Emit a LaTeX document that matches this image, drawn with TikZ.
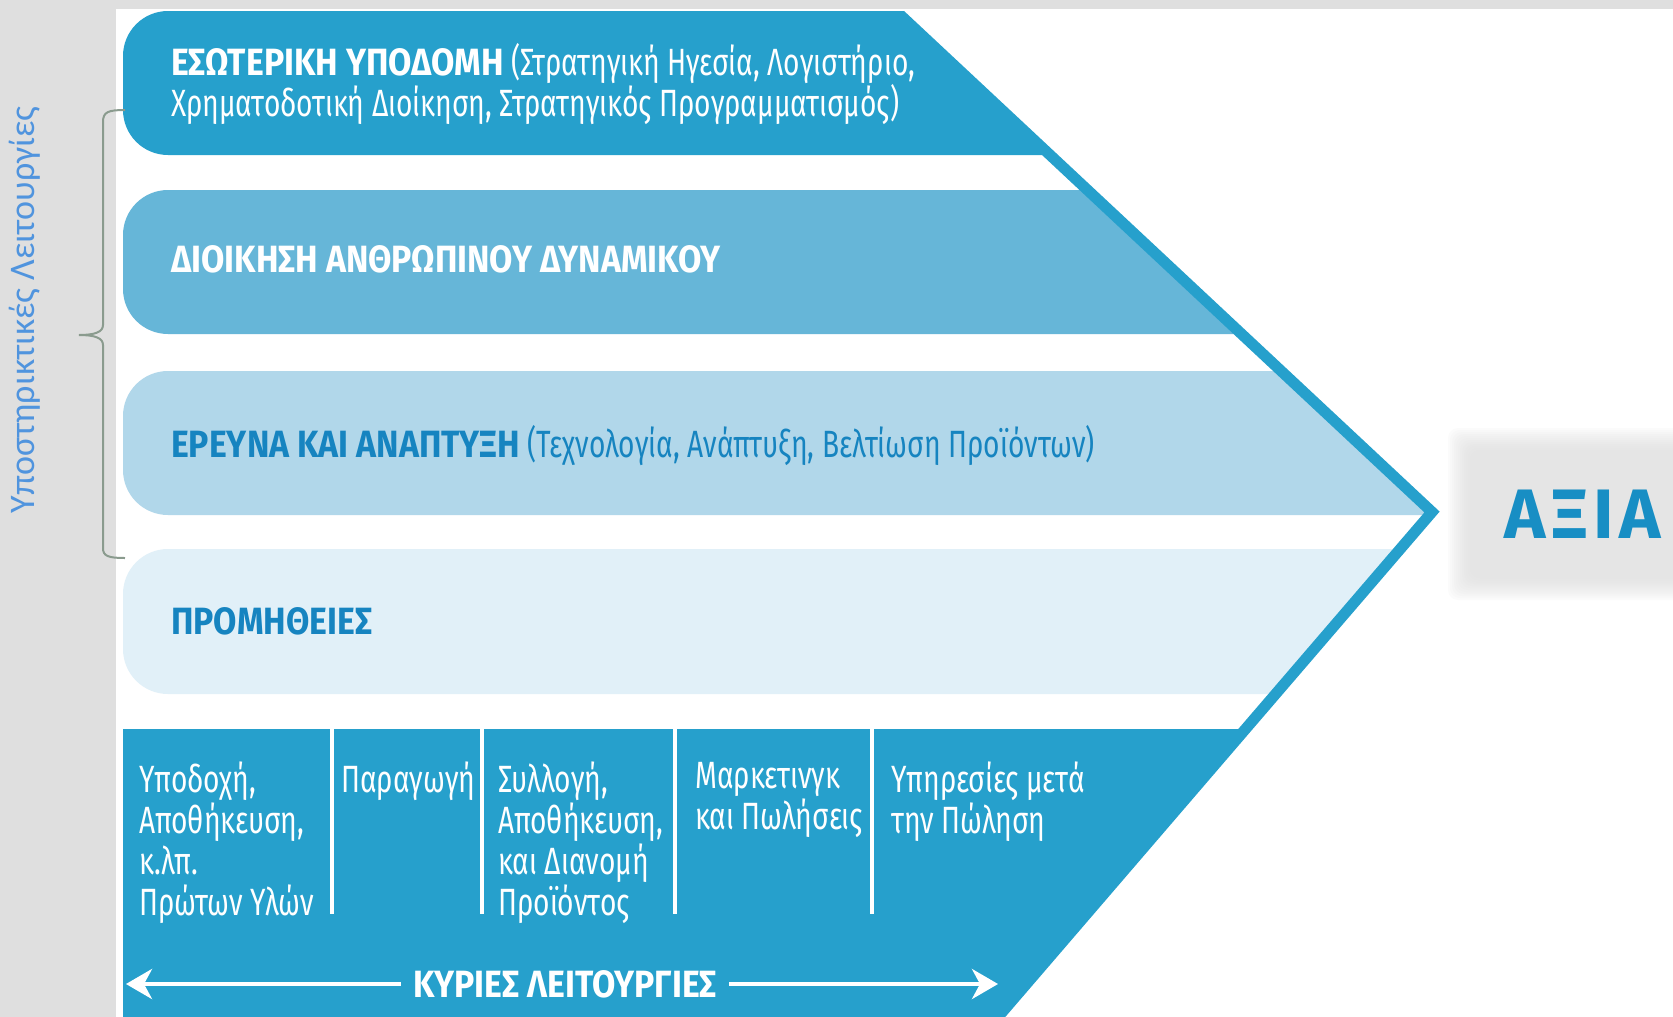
\documentclass[tikz,border=0pt]{standalone}
\usepackage{fontspec}
\usetikzlibrary{arrows.meta}
\setmainfont{Fira Sans}
\newfontfamily\condf[UprightFeatures={FakeStretch=0.74},BoldFeatures={FakeStretch=0.89}]{Fira Sans}
\newfontfamily\sidef{Carlito}
\newfontfamily\valf[LetterSpace=8]{Fira Sans}
\definecolor{dark}{RGB}{38,160,204}
\definecolor{mid}{RGB}{102,182,216}
\definecolor{light}{RGB}{177,215,234}
\definecolor{pale}{RGB}{225,240,248}
\definecolor{ink}{RGB}{22,132,192}
\definecolor{valink}{RGB}{24,142,196}
\definecolor{side}{RGB}{80,148,222}
\definecolor{bracecol}{RGB}{138,155,142}
\definecolor{panel}{RGB}{223,223,223}
\tikzset{
  band/.style={rounded corners=45pt},
  bandtext/.style={anchor=west,inner sep=0pt,align=left,font=\condf\fontsize{38}{41}\selectfont},
  coltext/.style={anchor=north west,inner sep=0pt,align=left,text=white,font=\condf\fontsize{38}{41}\selectfont},
  divider/.style={white,line width=4pt},
  mainarrow/.style={white,line width=4pt,-{Stealth[length=26pt,width=30pt,inset=8pt]}}
}
\begin{document}
\begin{tikzpicture}[x=1pt,y=-1pt]
\useasboundingbox (0,0) rectangle (1673,1017);
\fill[white] (0,0) rectangle (1673,1017);
\fill[panel] (0,0) rectangle (116,1017);
\fill[panel] (116,0) rectangle (1673,9);
\begin{scope}
\clip (0,11) -- (896,11) -- (1432,512) -- (998,1017) -- (0,1017) -- cycle;
\fill[dark,band] (123,11) rectangle (1500,155);
\fill[mid,band] (123,190) rectangle (1500,334);
\fill[light,band] (123,371) rectangle (1500,515);
\fill[pale,band] (123,549) rectangle (1500,694);
\fill[dark] (123,729) rectangle (1500,1017);
\end{scope}
\begin{scope}
\clip (0,11) rectangle (1673,1017);
\draw[dark,line width=11pt,line join=miter] (896,11) -- (1432,512) -- (998,1017);
\end{scope}
\node[bandtext,text=white] (infra) at (171,84) {\textbf{ΕΣΩΤΕΡΙΚΗ ΥΠΟΔΟΜΗ} (Στρατηγική Ηγεσία, Λογιστήριο,\\Χρηματοδοτική Διοίκηση, Στρατηγικός Προγραμματισμός)};
\node[bandtext,text=white] (hrm) at (171,259) {\textbf{ΔΙΟΙΚΗΣΗ ΑΝΘΡΩΠΙΝΟΥ ΔΥΝΑΜΙΚΟΥ}};
\node[bandtext,text=ink] (rnd) at (171,446) {\textbf{ΕΡΕΥΝΑ ΚΑΙ ΑΝΑΠΤΥΞΗ} (Τεχνολογία, Ανάπτυξη, Βελτίωση Προϊόντων)};
\node[bandtext,text=ink] (supply) at (171,621) {\textbf{ΠΡΟΜΗΘΕΙΕΣ}};
\node[coltext] (inbound) at (139,762) {Υποδοχή,\\Αποθήκευση,\\κ.λπ.\\Πρώτων Υλών};
\node[coltext] (ops) at (341,762) {Παραγωγή};
\node[coltext] (outbound) at (498,762) {Συλλογή,\\Αποθήκευση,\\και Διανομή\\Προϊόντος};
\node[coltext] (sales) at (695,762) {Μαρκετινγκ\\και Πωλήσεις};
\node[coltext] (service) at (891,762) {Υπηρεσίες μετά\\την Πώληση};
\foreach \x in {332,482,675,872}
  \draw[divider] (\x,729) -- (\x,914);
\node[bandtext,anchor=center,text=white,inner xsep=12pt] (primary) at (565,984) {\textbf{ΚΥΡΙΕΣ ΛΕΙΤΟΥΡΓΙΕΣ}};
\coordinate (lt) at (126,984);
\coordinate (rt) at (998,984);
\draw[mainarrow] (primary) -- (lt);
\draw[mainarrow] (primary) -- (rt);
\node[rotate=90,text=side,font=\sidef\fontsize{36}{36}\selectfont] (support) at (25,310) {Υποστηρικτικές Λειτουργίες};
\draw[bracecol,line width=2pt] (125,110) .. controls (108,110) and (103,112) .. (103,122) -- (103,325)
  .. controls (103,332) and (95,335) .. (79,335) .. controls (95,335) and (103,338) .. (103,345)
  -- (103,548) .. controls (103,556) and (108,558) .. (125,558);
\foreach \i in {0,...,11}
  \fill[black!12,opacity=0.11,rounded corners=10pt] (1448+2*\i,428+2*\i) rectangle (1690,600-2*\i);
\node[anchor=west,inner sep=0pt,text=valink,font=\valf\bfseries\fontsize{70}{70}\selectfont] (value) at (1504,514) {ΑΞΙΑ};
\end{tikzpicture}
\end{document}
